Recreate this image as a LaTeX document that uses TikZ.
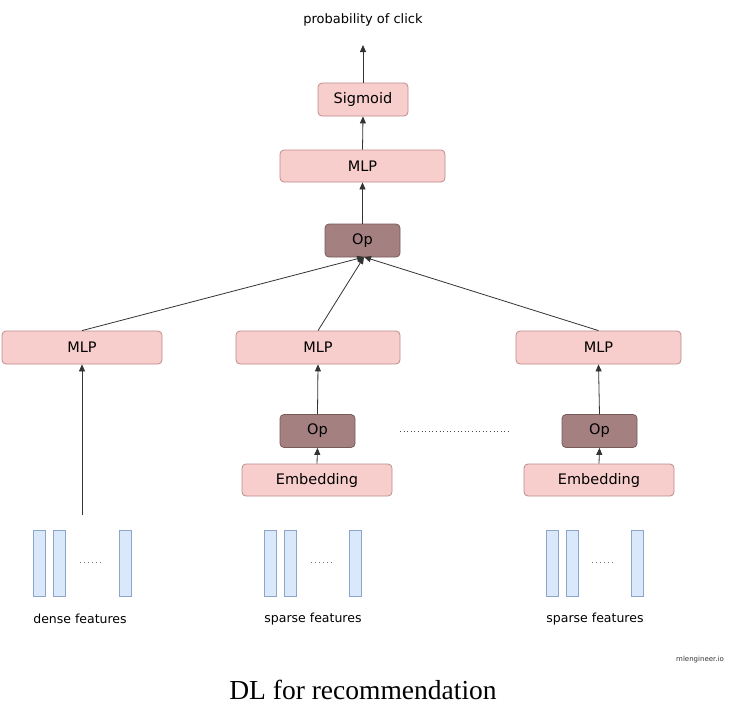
\documentclass[tikz,border=0pt]{standalone}
\usepackage{fontspec}
\setmainfont{DejaVu Sans}
\newfontfamily\serifcap{Liberation Serif}
\usetikzlibrary{arrows.meta}
\definecolor{boxfill}{RGB}{248,206,204}
\definecolor{boxline}{RGB}{190,140,140}
\definecolor{opfill}{RGB}{165,128,128}
\definecolor{opline}{RGB}{120,90,90}
\definecolor{barfill}{RGB}{218,232,252}
\definecolor{barline}{RGB}{140,165,200}
\begin{document}
\begin{tikzpicture}[x=1pt,y=-1pt,
  lbox/.style={draw=boxline,fill=boxfill,rounded corners=4pt,line width=0.8pt,inner sep=0pt,font=\fontsize{14.5}{16}\selectfont},
  opbox/.style={draw=opline,fill=opfill,rounded corners=4pt,line width=0.8pt,inner sep=0pt,font=\fontsize{14.5}{16}\selectfont,minimum width=75pt,minimum height=33pt},
  bar/.style={draw=barline,fill=barfill,line width=0.8pt,minimum width=12pt,minimum height=66pt,inner sep=0pt},
  arr/.style={draw=black!80,line width=0.8pt,-{Triangle[length=7pt,width=6pt]}},
  lbl/.style={font=\fontsize{12.5}{15}\selectfont,inner sep=0pt}
]
\useasboundingbox (0,0) rectangle (742,720);
\fill[white] (0,0) rectangle (742,720);
% top chain
\node[lbl,font=\fontsize{13}{15}\selectfont] (prob) at (363,20) {probability of click};
\coordinate (probin) at (363,45);
\node[lbox,minimum width=90pt,minimum height=33pt] (sig) at (363,99.5) {Sigmoid};
\node[lbox,minimum width=165pt,minimum height=32pt] (mlpt) at (362.5,166) {MLP};
\node[opbox] (opt) at (362.5,240.5) {Op};
% MLP row
\node[lbox,minimum width=160pt,minimum height=33pt] (mlpl) at (82,347.5) {MLP};
\node[lbox,minimum width=164pt,minimum height=33pt] (mlpm) at (318,347.5) {MLP};
\node[lbox,minimum width=165pt,minimum height=33pt] (mlpr) at (598.5,347.5) {MLP};
% Op row
\node[opbox] (opm) at (317.5,431) {Op};
\node[opbox] (opr) at (599.5,431) {Op};
% Embedding
\node[lbox,minimum width=150pt,minimum height=32pt] (embm) at (317,480) {Embedding};
\node[lbox,minimum width=150pt,minimum height=32pt] (embr) at (599,480) {Embedding};
% dotted
\coordinate (dotA) at (400,431);
\coordinate (dotB) at (510,431);
\draw[black!70,line width=1pt,dash pattern=on 1pt off 2.6pt] (dotA) -- (dotB);
% bars
\foreach \n/\x in {d1/39,d2/59,d3/125,s1/270,s2/290,s3/355,r1/552,r2/572,r3/637}{
  \node[bar] (\n) at (\x,563) {};
}
\foreach \x/\n in {92/dd,323/sd,604/rd}{
  \draw[black!55,line width=1pt,dash pattern=on 1pt off 3pt] (\x-12,562) -- (\x+12,562);
}
\node[lbl] (dense) at (80,619) {dense features};
\node[lbl] (sparse1) at (313,619) {sparse features};
\node[lbl] (sparse2) at (595,619) {sparse features};
\node[font=\fontsize{7}{8}\selectfont,inner sep=0pt,text=black!80] (brand) at (700,660) {mlengineer.io};
\node[font=\serifcap\fontsize{27.5}{30}\selectfont,inner sep=0pt] (title) at (363,690) {DL for recommendation};
% arrows
\coordinate (dsrc) at (82,515);
\draw[arr] (dsrc) -- (mlpl.south);
\draw[arr] (embm.north) -- (opm.south);
\draw[arr] (embr.north) -- (opr.south);
\draw[arr] (opm.north) -- (mlpm.south);
\draw[arr] (opr.north) -- (mlpr.south);
\coordinate (opin) at (364,257);
\draw[arr] (mlpl.north) -- (opin);
\draw[arr] (mlpm.north) -- (opin);
\draw[arr] (mlpr.north) -- (opin);
\draw[arr] (opt.north) -- (mlpt.south);
\draw[arr] (mlpt.north) -- (sig.south);
\draw[arr] (sig.north) -- (probin);
\end{tikzpicture}
\end{document}
